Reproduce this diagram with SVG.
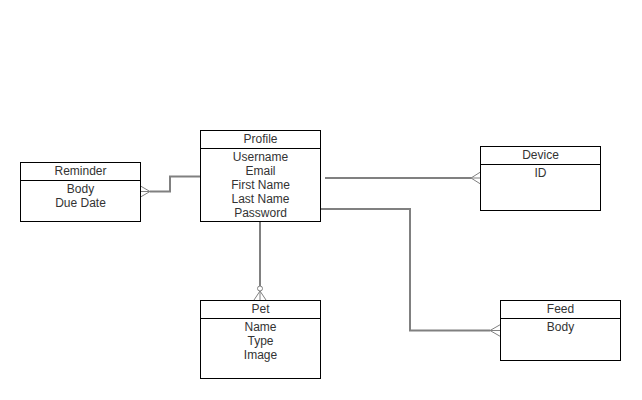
<svg xmlns="http://www.w3.org/2000/svg" width="642" height="400" viewBox="0 0 642 400">
<style>
.box{fill:#fff;stroke:#000;stroke-width:1}
.sep{stroke:#000;stroke-width:1}
text{font-family:"Liberation Sans",Arial,sans-serif;font-size:12px;fill:#333;text-anchor:middle}
.conn{fill:none;stroke:#808080;stroke-width:2}
.foot{fill:none;stroke:#808080;stroke-width:1}
</style>
<rect width="642" height="400" fill="#fff"/>
<g id="connectors">
<polyline class="conn" points="150,191.5 170,191.5 170,176.5 200,176.5"/>
<path class="foot" d="M150,191.5 L140.5,186 M150,191.5 L140.5,197 M150,191.5 L140.5,191.5"/>
<line class="conn" x1="260" y1="222" x2="260" y2="286"/>
<circle class="foot" cx="260" cy="288.5" r="2.5" fill="#fff"/>
<path class="foot" d="M260,291 L254,300 M260,291 L260,300 M260,291 L266,300"/>
<line class="conn" x1="325" y1="178" x2="471" y2="178"/>
<path class="foot" d="M471,178 L480.5,172 M471,178 L480.5,178 M471,178 L480.5,184"/>
<polyline class="conn" points="321,209 410,209 410,330.5 490,330.5"/>
<path class="foot" d="M490,330.5 L500.5,324.5 M490,330.5 L500.5,330.5 M490,330.5 L500.5,336.5"/>
</g>
<g id="profile">
<rect class="box" x="200.5" y="130.5" width="120" height="91"/>
<line class="sep" x1="200.5" y1="148.5" x2="320.5" y2="148.5"/>
<text x="260.5" y="143">Profile</text>
<text x="260.5" y="161">Username</text>
<text x="260.5" y="175">Email</text>
<text x="260.5" y="189">First Name</text>
<text x="260.5" y="203">Last Name</text>
<text x="260.5" y="217">Password</text>
</g>
<g id="reminder">
<rect class="box" x="20.5" y="162.5" width="120" height="59"/>
<line class="sep" x1="20.5" y1="180.5" x2="140.5" y2="180.5"/>
<text x="80.5" y="175">Reminder</text>
<text x="80.5" y="193">Body</text>
<text x="80.5" y="207">Due Date</text>
</g>
<g id="pet">
<rect class="box" x="200.5" y="300.5" width="120" height="78"/>
<line class="sep" x1="200.5" y1="318.5" x2="320.5" y2="318.5"/>
<text x="260.5" y="313">Pet</text>
<text x="260.5" y="331">Name</text>
<text x="260.5" y="345">Type</text>
<text x="260.5" y="359">Image</text>
</g>
<g id="device">
<rect class="box" x="480.5" y="146.5" width="120" height="64"/>
<line class="sep" x1="480.5" y1="164.5" x2="600.5" y2="164.5"/>
<text x="540.5" y="159">Device</text>
<text x="540.5" y="177">ID</text>
</g>
<g id="feed">
<rect class="box" x="500.5" y="300.5" width="120" height="60"/>
<line class="sep" x1="500.5" y1="318.5" x2="620.5" y2="318.5"/>
<text x="560.5" y="313">Feed</text>
<text x="560.5" y="331">Body</text>
</g>
</svg>
